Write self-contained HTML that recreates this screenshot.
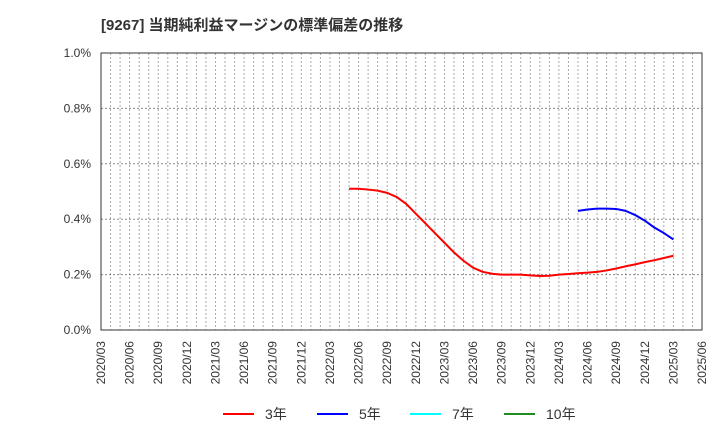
<!DOCTYPE html>
<html><head><meta charset="utf-8"><style>
body{margin:0;background:#fff;width:720px;height:440px;overflow:hidden;font-family:"Liberation Sans","Noto Sans CJK JP",sans-serif}
</style></head><body>
<svg id="c" width="720" height="440" xmlns="http://www.w3.org/2000/svg">
<text x="101" y="30" font-size="15" font-weight="bold" fill="#333">[9267]  当期純利益マージンの標準偏差の推移</text>
<g id="grid"></g><g id="axes"></g><g id="series"></g>
<g id="legend"></g>
</svg>
<script>
const yTicks=[0,0.2,0.4,0.6,0.8,1.0];
const xLabels=["2020/03","2020/06","2020/09","2020/12","2021/03","2021/06","2021/09","2021/12","2022/03","2022/06","2022/09","2022/12","2023/03","2023/06","2023/09","2023/12","2024/03","2024/06","2024/09","2024/12","2025/03","2025/06"];
const s3Start=26; // months since 2020/03 (2022/05)
const s3=[0.51,0.51,0.507,0.503,0.495,0.48,0.455,0.42,0.385,0.35,0.315,0.28,0.25,0.225,0.21,0.203,0.2,0.2,0.2,0.197,0.195,0.196,0.2,0.202,0.205,0.207,0.21,0.215,0.222,0.23,0.237,0.245,0.252,0.26,0.268];
const s5Start=50; // 2024/05
const s5=[0.43,0.435,0.438,0.438,0.437,0.43,0.415,0.395,0.37,0.35,0.327];
const L=101,R=702,T=53,B=330,M=63;
const x=m=>L+(R-L)*m/M, y=v=>B-(B-T)*v/1.0;
const NS="http://www.w3.org/2000/svg";
function mk(t,a,p){const e=document.createElementNS(NS,t);for(const k in a)e.setAttribute(k,a[k]);p.appendChild(e);return e;}
const g=document.getElementById('grid'),ax=document.getElementById('axes'),se=document.getElementById('series'),lg=document.getElementById('legend');
for(let m=1;m<M;m++){const l=mk('line',{x1:x(m),x2:x(m),y1:T,y2:B,stroke:'#aaa','stroke-width':1,'stroke-dasharray':'2,2'},g);

}
yTicks.forEach(v=>{if(v>0&&v<1){const l=mk('line',{x1:L,x2:R,y1:y(v),y2:y(v),stroke:'#888','stroke-width':1,'stroke-dasharray':'2,2'},g);

}
const t=mk('text',{x:91,y:y(v)+4,'font-size':12,fill:'#333','text-anchor':'end'},ax);t.textContent=v.toFixed(1)+'%';

});
const fr=mk('rect',{x:L,y:T,width:R-L,height:B-T,fill:'none',stroke:'#333','stroke-width':1},ax);


xLabels.forEach((s,i)=>{const xx=x(i*3)+4;const t=mk('text',{x:xx,y:341,'font-size':12,fill:'#333','text-anchor':'end',transform:`rotate(-90 ${xx} 341)`},ax);t.textContent=s;

});
function line(d,st,c,n){const p=mk('polyline',{points:d.map((v,i)=>x(st+i)+','+y(v)).join(' '),fill:'none',stroke:c,'stroke-width':2,'stroke-linejoin':'round'},se);

}
line(s3,s3Start,'#f00','series-3y');
line(s5,s5Start,'#00f','series-5y');
[['3年','#f00',223],['5年','#00f',317],['7年','#0ff',410],['10年','#228b22',504]].forEach(([t,c,lx])=>{
const gi=mk('g',{},lg);
mk('line',{x1:lx,x2:lx+31,y1:414,y2:414,stroke:c,'stroke-width':2},gi);
const tx=mk('text',{x:lx+42,y:419,'font-size':14,fill:'#333'},gi);tx.textContent=t;});
</script>
</body></html>
